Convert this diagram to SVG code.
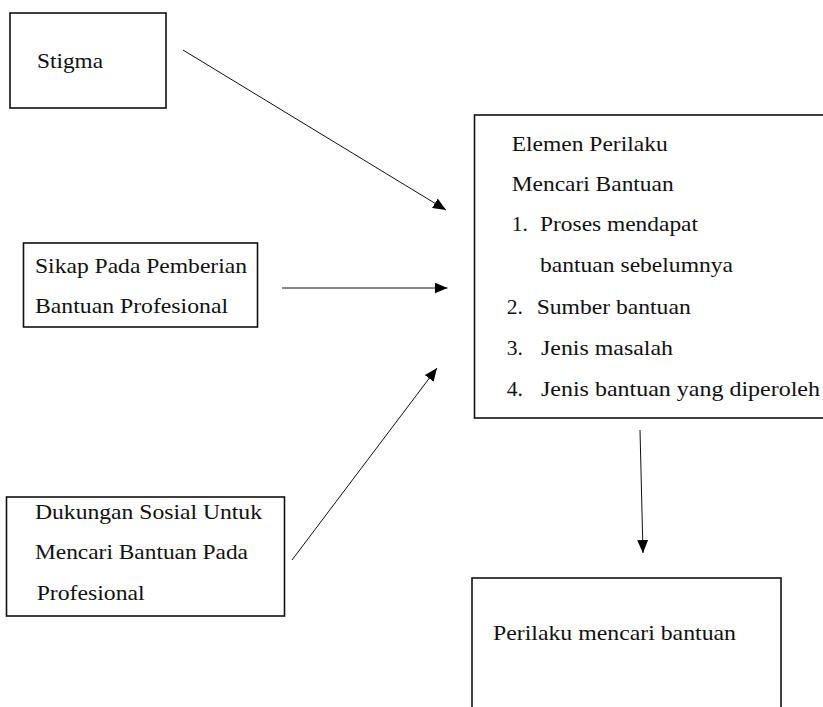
<svg xmlns="http://www.w3.org/2000/svg" width="823" height="707" viewBox="0 0 823 707">
  <defs>
    <marker id="arrow" markerUnits="userSpaceOnUse" markerWidth="13" markerHeight="11" refX="13" refY="5.5" orient="auto">
      <path d="M0,0 L13,5.5 L0,11 Z" fill="#000"/>
    </marker>
    <style>
      .box { fill: #fff; stroke: #111; stroke-width: 1.6; }
      .lbl { font-size: 21.5px; fill: #111; }
      .edge { stroke: #111; stroke-width: 1; fill: none; marker-end: url(#arrow); }
    </style>
  </defs>
  <rect width="823" height="707" fill="#fff"/>

  <g font-family="Liberation Serif">
  <g id="stigma">
    <rect class="box" x="10" y="13" width="156" height="95"/>
    <text class="lbl" x="37" y="67.5" textLength="66" lengthAdjust="spacingAndGlyphs">Stigma</text>
  </g>

  <g id="sikap">
    <rect class="box" x="23.5" y="243" width="234" height="84"/>
    <text class="lbl" x="35" y="273" textLength="212" lengthAdjust="spacingAndGlyphs">Sikap Pada Pemberian</text>
    <text class="lbl" x="35" y="313" textLength="193" lengthAdjust="spacingAndGlyphs">Bantuan Profesional</text>
  </g>

  <g id="dukungan">
    <rect class="box" x="6.5" y="497" width="278" height="119"/>
    <text class="lbl" x="35" y="518.5" textLength="227" lengthAdjust="spacingAndGlyphs">Dukungan Sosial Untuk</text>
    <text class="lbl" x="35" y="558.5" textLength="213" lengthAdjust="spacingAndGlyphs">Mencari Bantuan Pada</text>
    <text class="lbl" x="36.7" y="600" textLength="108" lengthAdjust="spacingAndGlyphs">Profesional</text>
  </g>

  <g id="elemen">
    <rect class="box" x="474.5" y="115" width="360" height="303"/>
    <text class="lbl" x="511.7" y="150.7" textLength="156" lengthAdjust="spacingAndGlyphs">Elemen Perilaku</text>
    <text class="lbl" x="511.7" y="191" textLength="162" lengthAdjust="spacingAndGlyphs">Mencari Bantuan</text>
    <text class="lbl" x="511.7" y="230.5">1.</text>
    <text class="lbl" x="540" y="230.5" textLength="158" lengthAdjust="spacingAndGlyphs">Proses mendapat</text>
    <text class="lbl" x="540" y="271.7" textLength="193" lengthAdjust="spacingAndGlyphs">bantuan sebelumnya</text>
    <text class="lbl" x="506.7" y="313.5">2.</text>
    <text class="lbl" x="536.7" y="313.5" textLength="154" lengthAdjust="spacingAndGlyphs">Sumber bantuan</text>
    <text class="lbl" x="506.7" y="355">3.</text>
    <text class="lbl" x="541" y="355" textLength="132" lengthAdjust="spacingAndGlyphs">Jenis masalah</text>
    <text class="lbl" x="506.7" y="396">4.</text>
    <text class="lbl" x="541" y="396" textLength="279" lengthAdjust="spacingAndGlyphs">Jenis bantuan yang diperoleh</text>
  </g>

  <g id="perilaku">
    <rect class="box" x="472" y="578" width="309" height="140"/>
    <text class="lbl" x="493" y="640" textLength="243" lengthAdjust="spacingAndGlyphs">Perilaku mencari bantuan</text>
  </g>
  </g>

  <g id="connectors">
    <line class="edge" x1="183" y1="50" x2="446" y2="210"/>
    <line class="edge" x1="282" y1="288" x2="447.5" y2="288"/>
    <line class="edge" x1="292" y1="560" x2="437" y2="368"/>
    <line class="edge" x1="640" y1="430" x2="643" y2="553"/>
  </g>
</svg>
